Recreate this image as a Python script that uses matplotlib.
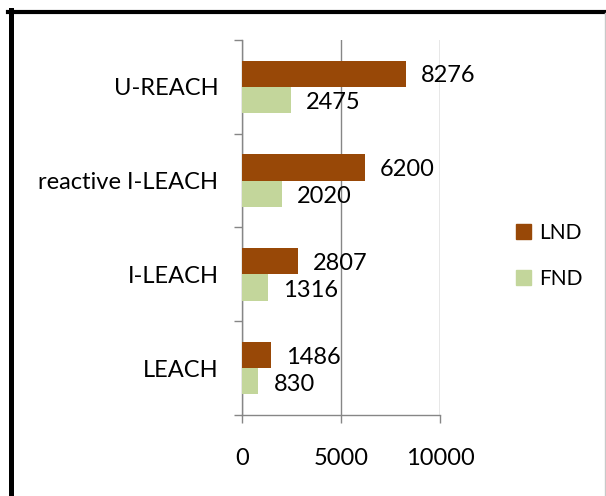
import numpy as np
import matplotlib.pyplot as plt
from matplotlib.patches import Patch
from matplotlib.lines import Line2D

categories = ['LEACH', 'I-LEACH', 'reactive I-LEACH', 'U-REACH']
lnd = [1486, 2807, 6200, 8276]
fnd = [830, 1316, 2020, 2475]
xticks = [0, 5000, 10000]

plt.rcParams['font.family'] = ['Lato', 'DejaVu Sans']

fig = plt.figure(figsize=(6.06, 4.96), dpi=100)
W, H = 606, 496
ax = fig.add_axes([242 / W, 1 - 415 / H, 198 / W, 375 / H])

y = np.arange(len(categories))
h = 0.28
ax.barh(y + h / 2, lnd, height=h, color='#984807', label='LND', zorder=3)
ax.barh(y - h / 2, fnd, height=h, color='#C3D69B', label='FND', zorder=3)

# value labels
for yi, v in zip(y, lnd):
    ax.annotate(str(v), (v, yi + h / 2), xytext=(15, -2), textcoords='offset pixels',
                va='center', ha='left', fontsize=17)
for yi, v in zip(y, fnd):
    ax.annotate(str(v), (v, yi - h / 2), xytext=(15, -3), textcoords='offset pixels',
                va='center', ha='left', fontsize=17)

grey = '#868686'
ax.set_xlim(0, 10000)
ax.set_ylim(-0.5, len(categories) - 0.5)
ax.set_xticks(xticks)
ax.set_xticklabels([str(t) for t in xticks], fontsize=17)
ax.set_yticks(y)
ax.set_yticklabels(categories, fontsize=17)
ax.set_yticks(np.arange(-0.5, len(categories)), minor=True)
ax.tick_params(axis='y', which='major', length=0, pad=17)
ax.tick_params(axis='y', which='minor', length=6, width=1, color=grey)
ax.tick_params(axis='x', length=6, width=1, color=grey, pad=18)
ax.grid(axis='x', color=grey, linewidth=1, zorder=0)
for s in ['top', 'right']:
    ax.spines[s].set_visible(False)
for s in ['left', 'bottom']:
    ax.spines[s].set_color(grey)
    ax.spines[s].set_linewidth(1)

handles = [Patch(color='#984807', label='LND'), Patch(color='#C3D69B', label='FND')]
fig.legend(handles=handles, loc='center left', bbox_to_anchor=(497 / W, 1 - 256 / H),
           frameon=False, fontsize=15, handlelength=0.75, handleheight=0.75,
           handletextpad=0.35, labelspacing=1.25)

# outer frame
fig.add_artist(Line2D([10.5 / W, 10.5 / W], [0, 1 - 10 / H], transform=fig.transFigure,
                      color='black', linewidth=3.6))
fig.add_artist(Line2D([8 / W, 604 / W], [1 - 11.5 / H, 1 - 11.5 / H], transform=fig.transFigure,
                      color='black', linewidth=3))
fig.add_artist(Line2D([604.5 / W, 604.5 / W], [0, 1 - 13 / H], transform=fig.transFigure,
                      color='#c8c8c8', linewidth=1))

fig.savefig('out.png', dpi=100)
